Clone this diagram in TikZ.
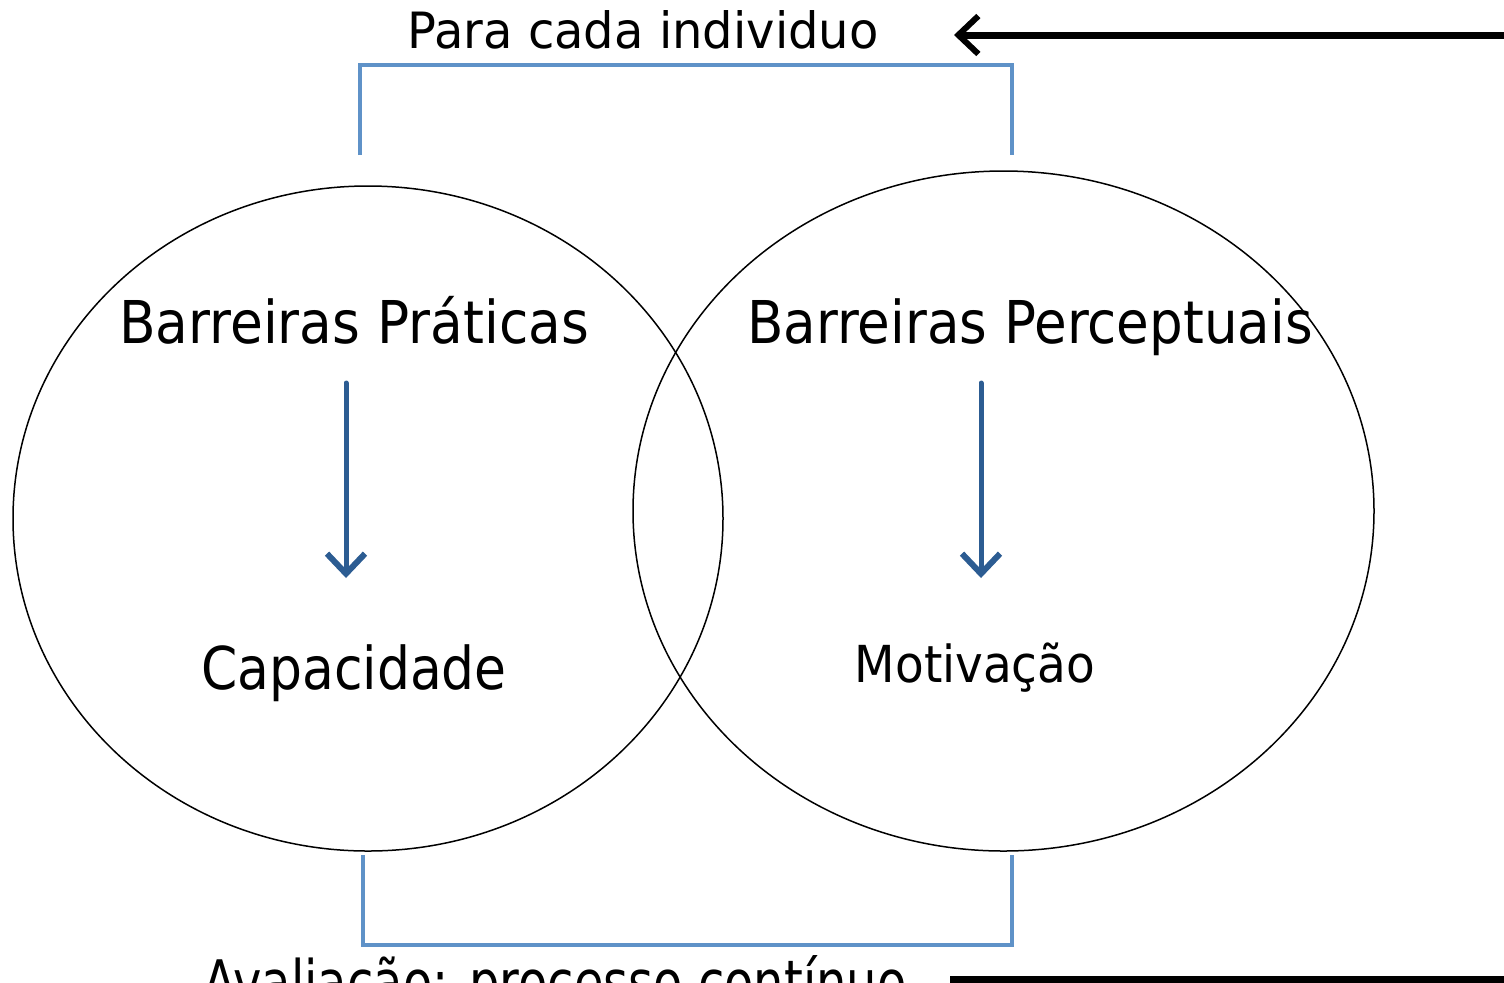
\documentclass[tikz,border=0pt]{standalone}
\usepackage{fontspec}
\setmainfont{DejaVu Sans}
\usetikzlibrary{arrows.meta,positioning}

\definecolor{bracketblue}{HTML}{5F92C8}
\definecolor{arrowblue}{HTML}{2C5C92}

\begin{document}
\begin{tikzpicture}[x=0.5pt,y=-0.5pt,>={Straight Barb[length=10pt,width=19pt,line width=3pt]},
                    bracket/.style={bracketblue,line width=2pt},
                    flow/.style={->,arrowblue,line width=2.5pt,line cap=round},
                    loop/.style={black,line width=3.5pt},
                    circ/.style={black,line width=0.75pt}]
    \useasboundingbox (0,0) rectangle (1504,982);

    % the two circles
    \draw[circ] (368,518.5) ellipse [x radius=355,y radius=332.5];
    \draw[circ] (1003.5,511) ellipse [x radius=370.5,y radius=340];

    % labels
    \node (title) at (643,30)
        {\fontsize{25}{30}\selectfont\addfontfeatures{FakeStretch=0.96}Para cada individuo};
    \node[anchor=base] (pratic) at (354,343)
        {\fontsize{29.5}{35}\selectfont\addfontfeatures{FakeStretch=0.905}Barreiras Práticas};
    \node[anchor=base] (percep) at (1030,343)
        {\fontsize{29.5}{35}\selectfont\addfontfeatures{FakeStretch=0.9}Barreiras Perceptuais};
    \node[anchor=base] (capac) at (354,689)
        {\fontsize{29.5}{35}\selectfont\addfontfeatures{FakeStretch=0.88}Capacidade};
    \node[anchor=base] (motiv) at (975,682)
        {\fontsize{25.5}{30}\selectfont\addfontfeatures{FakeStretch=0.92}Motivação};
    \node[anchor=north] (aval) at (555,948)
        {\fontsize{30}{36}\selectfont\addfontfeatures{FakeStretch=0.8}Avaliação: processo contínuo};

    % blue arrows
    \coordinate (pt1) at (346,383);
    \coordinate (pt2) at (346,578);
    \coordinate (pc1) at (981,383);
    \coordinate (pc2) at (981,578);
    \draw[flow] (pt1) -- (pt2);
    \draw[flow] (pc1) -- (pc2);

    % brackets
    \coordinate (tl) at (360,155);
    \coordinate (tr) at (1012,155);
    \coordinate (bl) at (363,855);
    \coordinate (br) at (1012,855);
    \draw[bracket] (tl) -- ++(0,-90) -| (tr);
    \draw[bracket] (bl) -- ++(0,90) -| (br);

    % feedback
    \coordinate (topend) at (1506,35);
    \coordinate (tip) at (954,35);
    \coordinate (botstart) at (950,979);
    \coordinate (botend) at (1506,979);
    \draw[loop,->] (topend) -- (tip);
    \draw[loop] (botstart) -- (botend);
\end{tikzpicture}
\end{document}
